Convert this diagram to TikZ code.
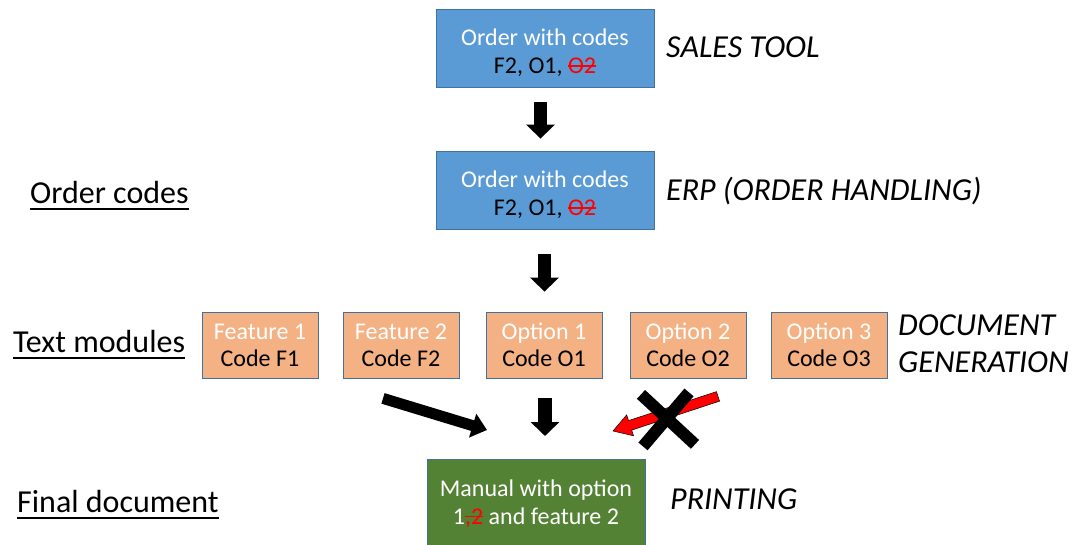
\documentclass[tikz,border=0pt]{standalone}
\usepackage{fontspec}
\setmainfont{Carlito}
\usetikzlibrary{arrows.meta,calc}

\definecolor{boxblue}{HTML}{5B9BD5}
\definecolor{boxedge}{HTML}{41719C}
\definecolor{modorange}{HTML}{F4B183}
\definecolor{docgreen}{HTML}{548235}
\definecolor{strikered}{HTML}{FF0000}

\newsavebox{\markbox}
% red, struck-through code
\newcommand{\struck}[1]{\textcolor{strikered}{\sbox{\markbox}{#1}%
  \rlap{\rule[0.3em]{\wd\markbox}{1.4pt}}\usebox{\markbox}}}
% underlined heading
\newcommand{\underlined}[1]{\sbox{\markbox}{#1}%
  \rlap{\rule[-0.2em]{\wd\markbox}{2pt}}\usebox{\markbox}}
% taller first line, so the two lines sit a little lower in the box
\newcommand{\topstrut}{\rule{0pt}{27pt}}

\begin{document}
\begin{tikzpicture}[x=1pt,y=-1pt,
  box/.style={draw=boxedge, line width=0.8pt, align=center, inner sep=0pt,
    font=\fontsize{24}{28}\selectfont},
  orderbox/.style={box, fill=boxblue, minimum width=218pt, minimum height=78pt},
  modbox/.style={box, fill=modorange, minimum width=116pt, minimum height=66pt,
    font=\fontsize{24}{27}\selectfont},
  docbox/.style={box, fill=docgreen, text=white, minimum width=218pt, minimum height=88pt},
  stage/.style={anchor=west, inner sep=0pt, align=left,
    font=\fontsize{32}{37}\selectfont\itshape},
  level/.style={anchor=west, inner sep=0pt, font=\fontsize{32}{36}\selectfont},
  blockarrow/.style={line width=13.5pt, -{Triangle[width=28pt,length=14pt]}},
  slantarrow/.style={line width=11pt, -{Triangle[width=24pt,length=15pt]}},
  cross/.style={line width=12pt},
]
\useasboundingbox (0,0) rectangle (1085,545);
\clip (0,0) rectangle (1085,545);

% order stages
\node[orderbox] (sales) at (545,48)
  {\topstrut\textcolor{white}{Order with codes}\\F2, O1, \struck{O2}};
\node[orderbox] (erp) at (545,190)
  {\topstrut\textcolor{white}{Order with codes}\\F2, O1, \struck{O2}};

% text modules
\node[modbox] (f1) at (260,345) {\textcolor{white}{Feature 1}\\Code F1};
\node[modbox] (f2) at (401,345) {\textcolor{white}{Feature 2}\\Code F2};
\node[modbox] (o1) at (544,345) {\textcolor{white}{Option 1}\\Code O1};
\node[modbox] (o2) at (688,345) {\textcolor{white}{Option 2}\\Code O2};
\node[modbox] (o3) at (829,345) {\textcolor{white}{Option 3}\\Code O3};

% final document
\node[docbox, anchor=north] (manual) at (536,459)
  {Manual with option\\1\struck{,2} and feature 2};

% stage names
\node[stage] (tsales) at (666,47) {SALES TOOL};
\node[stage] (terp) at (666,191) {ERP (ORDER HANDLING)};
\node[stage] (tgen) at (898,344) {DOCUMENT\\GENERATION};
\node[stage] (tprint) at (670,499) {PRINTING};

% level names
\node[level] (lcodes) at (30,196) {\underlined{Order codes}};
\node[level] (lmods) at (13,345) {\underlined{Text modules}};
\node[level] (lfinal) at (17,505) {\underlined{Final document}};

% flow arrows
\draw[blockarrow] ($(sales.south)+(-4.5,15)$) -- ($(erp.north)+(-4.5,-12)$);
\draw[blockarrow] ($(erp.south)+(-0.5,25)$) -- ($(o1.north)+(0.5,-20)$);
\draw[blockarrow] ($(o1.south)+(1,20)$) -- ($(manual.north)+(9,-23)$);
\draw[slantarrow] ($(f2.south)+(-18,20)$) -- ($(manual.north)+(-49,-29)$);

% rejected option 2
\coordinate (rs) at ($(o2.south)+(30,18)$);
\coordinate (rt) at ($(manual.north)+(77,-28)$);
\coordinate (hb) at ($(rt)!18pt!(rs)$);
\filldraw[fill=strikered, draw=black, line width=0.5pt]
  ($(rs)!5pt!90:(rt)$) -- ($(hb)!5pt!-90:(rs)$) -- ($(hb)!11pt!-90:(rs)$)
  -- (rt) -- ($(hb)!11pt!90:(rs)$) -- ($(hb)!5pt!90:(rs)$)
  -- ($(rs)!5pt!-90:(rt)$) -- cycle;
\coordinate (xc) at ($(o2.south)+(-20,41)$);
\draw[cross] ($(xc)+(-27,-25)$) -- ($(xc)+(27,25)$);
\draw[cross] ($(xc)+(21,-27)$) -- ($(xc)+(-25,27)$);
\end{tikzpicture}
\end{document}
